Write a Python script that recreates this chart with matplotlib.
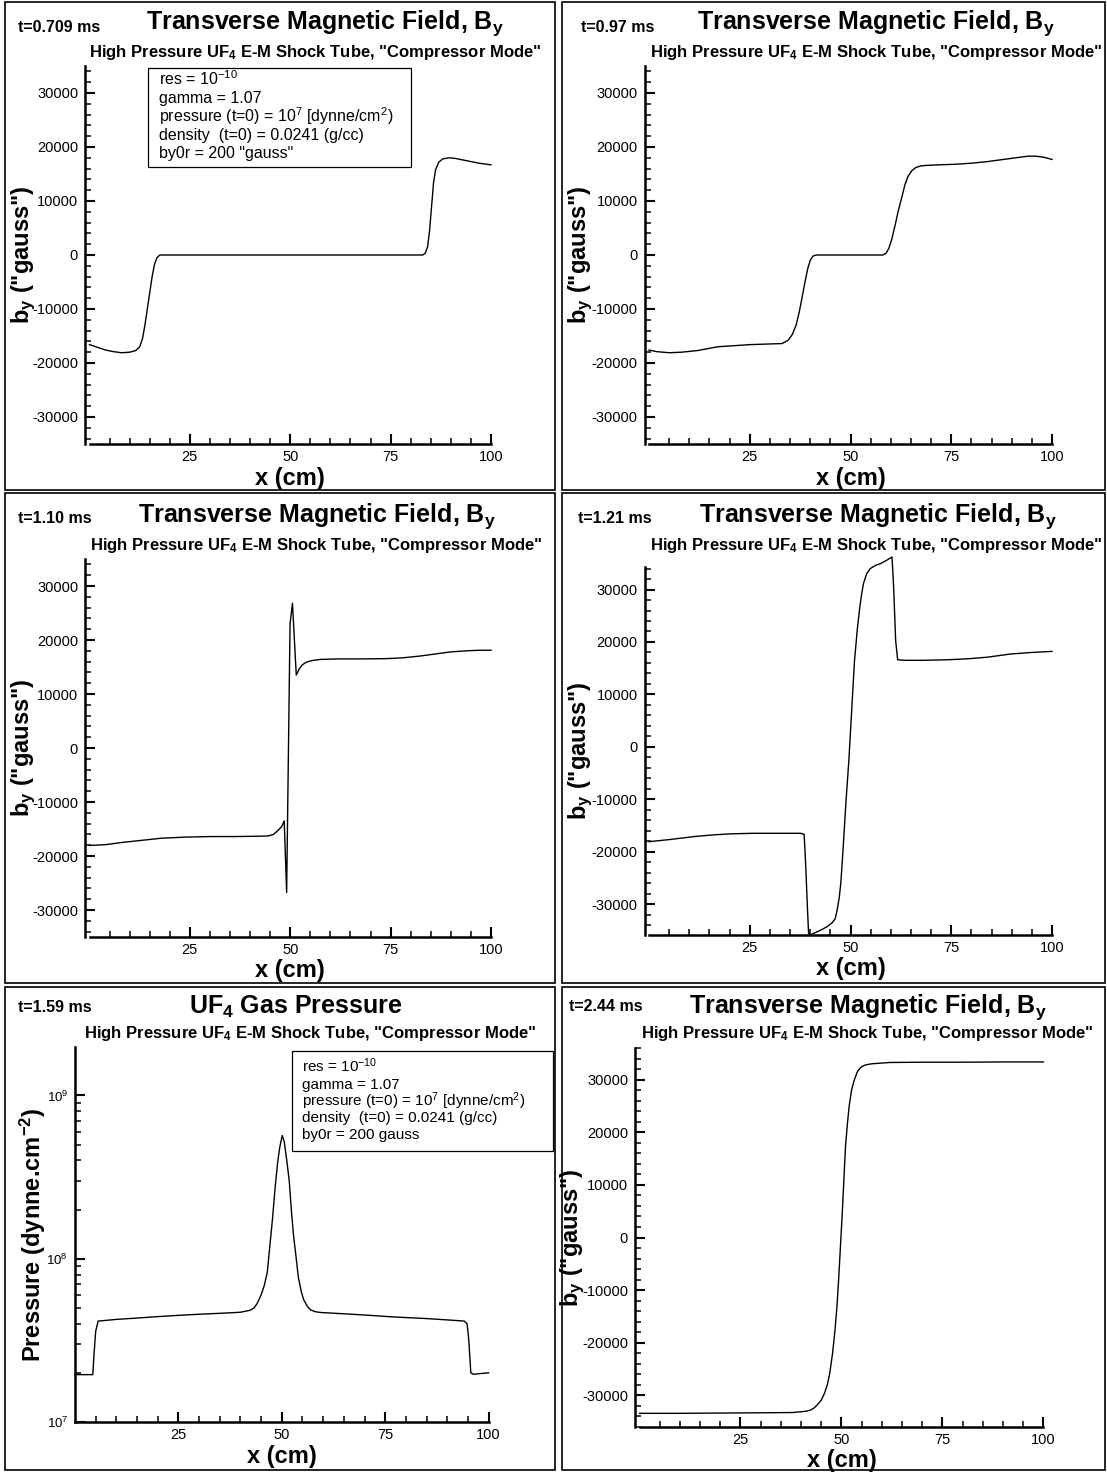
import matplotlib.pyplot as plt
from matplotlib.patches import Rectangle
from matplotlib.ticker import FixedLocator, MultipleLocator, LogLocator, StrMethodFormatter, NullFormatter

plt.rcParams['font.family'] = ['Liberation Sans', 'DejaVu Sans']
plt.rcParams['mathtext.fontset'] = 'custom'
plt.rcParams['mathtext.rm'] = 'Liberation Sans'
plt.rcParams['mathtext.it'] = 'Liberation Sans:italic'
plt.rcParams['mathtext.bf'] = 'Liberation Sans:bold'
plt.rcParams['axes.unicode_minus'] = False

# ---- data (x in cm) ----
x_t0709 = [0, 2, 4, 6, 8, 10, 11.5, 12.5, 13.2, 13.8, 14.4, 15, 15.6, 16.2, 16.8, 17.5,
           83.0, 83.6, 84.2, 84.7, 85.2, 85.7, 86.2, 87, 88, 89.5, 91, 93, 95, 97, 100]
by_t0709 = [-16600, -17100, -17600, -17900, -18100, -18000, -17700, -17000, -15500, -13000,
            -10000, -7000, -4000, -1700, -500, 0, 0, 300, 1500, 4500, 9000, 13500, 15800,
            17200, 17800, 18000, 17900, 17600, 17300, 17000, 16700]

x_t097 = [0, 2, 5, 8, 12, 17, 21, 25, 29, 33, 34.5, 35.5, 36.5, 37.3, 38, 38.7, 39.4, 40,
          40.7, 41.5, 42.5, 58.0, 58.8, 59.5, 60.2, 61, 61.8, 62.7, 63.5, 64.3, 65.2, 66.2,
          67.5, 69, 72, 76, 80, 84, 88, 91, 94, 96, 98, 100]
by_t097 = [-17600, -17900, -18100, -18000, -17700, -17000, -16800, -16600, -16500, -16400,
           -15800, -14800, -13000, -10500, -7800, -5000, -2500, -1000, -200, 0, 0, 0, 300,
           1200, 2800, 5300, 8000, 10600, 13000, 14600, 15600, 16200, 16500, 16600, 16700,
           16800, 17000, 17300, 17700, 18000, 18300, 18300, 18100, 17700]

x_t110 = [0, 4, 8, 13, 18, 24, 30, 36, 41, 44.4, 45.8, 46.6, 47.3, 47.9, 48.5, 49.1, 49.95,
          50.55, 51.5, 52.2, 53, 54, 55.5, 57.5, 62, 68, 74, 78, 82, 86, 90, 94, 97, 100]
by_t110 = [-18050, -17900, -17500, -17100, -16700, -16500, -16400, -16400, -16350, -16300,
           -16000, -15500, -15000, -14500, -13500, -26750, 23000, 26800, 13500, 14600, 15400,
           15900, 16200, 16400, 16500, 16500, 16550, 16700, 17000, 17400, 17800, 18000, 18100,
           18100]

x_t121 = [0, 5, 11.5, 16, 20.2, 26, 32, 37.6, 38.5, 38.9, 39.3, 39.6, 40.0, 41.4, 42.8, 44.2,
          45.4, 46.2, 46.7, 47.2, 47.6, 48.2, 48.9, 49.6, 50.2, 51.0, 51.7, 52.3, 52.8, 53.2,
          54.0, 54.9, 56.2, 57.6, 59.0, 60.3, 60.7, 61.2, 61.7, 63.6, 68, 74, 79.3, 84, 89.7,
          95, 100]
by_t121 = [-18100, -17700, -17100, -16800, -16600, -16500, -16500, -16500, -16700, -22900,
           -30500, -35600, -35900, -35400, -34900, -34300, -33600, -32800, -31100, -28800,
           -26000, -19000, -10200, -2500, 5700, 16500, 22500, 26600, 29300, 31100, 33000,
           34000, 34600, 35000, 35600, 36200, 30500, 20300, 16600, 16500, 16500, 16600, 16800,
           17100, 17700, 18000, 18200]

x_t159 = [0, 2, 4.3, 4.6, 5.0, 5.6, 10, 15, 20, 25, 30, 35, 40, 42.3, 43.3, 44.0, 44.6, 45.2,
          45.8, 46.5, 47.0, 47.7, 48.4, 49.0, 49.5, 50.1, 50.6, 51.2, 51.8, 52.3, 52.8, 53.4,
          54.0, 54.7, 55.3, 56.2, 57.0, 58.2, 59.6, 65, 70, 77, 85, 90, 94.1, 94.8, 95.2, 95.7,
          96.3, 98, 100]
p_t159 = [1.95e7, 1.95e7, 1.95e7, 2.6e7, 3.6e7, 4.15e7, 4.25e7, 4.33e7, 4.42e7, 4.5e7, 4.57e7,
          4.63e7, 4.7e7, 4.83e7, 5.0e7, 5.3e7, 5.7e7, 6.2e7, 6.9e7, 8.3e7, 1.12e8, 1.7e8,
          2.75e8, 3.9e8, 4.8e8, 5.69e8, 5.2e8, 4.0e8, 3.0e8, 2.0e8, 1.42e8, 1.05e8, 7.7e7,
          6.3e7, 5.6e7, 5.1e7, 4.85e7, 4.73e7, 4.68e7, 4.6e7, 4.52e7, 4.4e7, 4.3e7, 4.22e7,
          4.15e7, 4.0e7, 3.2e7, 2.0e7, 1.96e7, 1.98e7, 2.0e7]

x_t244 = [0, 10, 20, 30, 38, 40, 41.3, 42.3, 43.2, 44, 45, 45.8, 46.5, 47.1, 47.8, 48.4, 48.9,
          49.3, 50.2, 51.0, 51.5, 51.9, 52.5, 53.2, 54.0, 54.9, 56.0, 57.5, 62, 70, 80, 90, 100]
by_t244 = [-33400, -33400, -33350, -33300, -33250, -33100, -33000, -32800, -32400, -31800,
           -30900, -29600, -28000, -25800, -22000, -17600, -13000, -8000, 4600, 17300, 21800,
           24900, 28000, 30000, 31600, 32400, 32800, 33000, 33250, 33300, 33300, 33350, 33350]

W, H = 1107, 1472
fig = plt.figure(figsize=(W / 100, H / 100), dpi=100)


def ftext(x, y, s, **kw):
    fig.text(x / W, 1 - y / H, s, **kw)


def box(left, top, right, bottom, lw=1.2):
    fig.add_artist(Rectangle((left / W, 1 - bottom / H), (right - left) / W, (bottom - top) / H,
                             transform=fig.transFigure, fill=False, ec='black', lw=lw))


def make_axes(left, top, right, bottom, ylim, log=False, out=3.2, ylab_dx=-66):
    ax = fig.add_axes([left / W, 1 - bottom / H, (right - left) / W, (bottom - top) / H])
    ax.patch.set_alpha(0)
    for s in ['top', 'right']:
        ax.spines[s].set_visible(False)
    for s in ['left', 'bottom']:
        ax.spines[s].set_linewidth(1.8)
    ax.spines['left'].set_position(('outward', out))
    ax.set_xlim(0, 100)
    ax.xaxis.set_major_locator(FixedLocator([25, 50, 75, 100]))
    ax.xaxis.set_minor_locator(FixedLocator(range(5, 100, 5)))
    if log:
        ax.set_yscale('log')
        ax.yaxis.set_major_locator(LogLocator(base=10))
        ax.yaxis.set_minor_locator(LogLocator(base=10, subs=range(2, 10)))
        ax.yaxis.set_minor_formatter(NullFormatter())
    else:
        ax.yaxis.set_major_locator(MultipleLocator(10000))
        ax.yaxis.set_minor_locator(MultipleLocator(2000))
        ax.yaxis.set_major_formatter(StrMethodFormatter('{x:.0f}'))
    ax.set_ylim(*ylim)
    ax.tick_params(which='both', direction='in', labelsize=10.5)
    ax.tick_params(which='major', length=7, width=1.5)
    ax.tick_params(which='minor', length=4, width=1.1)
    ax.tick_params(axis='y', pad=5)
    ax.tick_params(axis='x', pad=4)
    ax.set_xlabel('x (cm)', fontsize=17, fontweight='bold', va='center')
    ax.xaxis.set_label_coords(0.5, -34 / (bottom - top))
    ax.yaxis.set_label_coords(ylab_dx / (right - left), 0.5)
    return ax


def header(tx, title_cx, sub_cx, t_base, title_base, sub_base, tlabel, title):
    ftext(tx, t_base, tlabel, fontsize=11.5, fontweight='bold', va='baseline')
    ftext(title_cx, title_base, title, fontsize=18, fontweight='bold', ha='center', va='baseline')
    ftext(sub_cx, sub_base, 'High Pressure UF$_\\mathbf{4}$ E-M Shock Tube, "Compressor Mode"',
          fontsize=12, fontweight='bold', ha='center', va='baseline')


def info_box(left, top, right, bottom, tx, base0, step, lines, fs):
    box(left, top, right, bottom, lw=0.9)
    for i, s in enumerate(lines):
        ftext(tx, base0 + i * step, s, fontsize=fs, va='baseline')


by_title = 'Transverse Magnetic Field, B$_\\mathbf{y}$'
by_label = 'b$_\\mathbf{y}$ ("gauss")'

# panel frames
box(5, 2, 555, 490)
box(562, 2, 1105, 490)
box(5, 493, 555, 983)
box(562, 493, 1105, 983)
box(5, 987, 555, 1470)
box(562, 987, 1105, 1470)

# --- t = 0.709 ms ---
ax = make_axes(89.5, 66, 491, 444, (-35000, 35000))
ax.plot(x_t0709, by_t0709, color='black', lw=1.0, clip_on=False)
ax.set_ylabel(by_label, fontsize=17, fontweight='bold', va='center')
header(18, 325, 315, 32, 29, 57, 't=0.709 ms', by_title)
info_box(147.5, 68, 411, 167, 159, 85, 18.3,
         ['res = 10$^{-10}$', 'gamma = 1.07',
          'pressure (t=0) = 10$^{7}$ [dynne/cm$^{2}$)',
          'density  (t=0) = 0.0241 (g/cc)', 'by0r = 200 "gauss"'], 11.5)

# --- t = 0.97 ms ---
ax = make_axes(649, 66, 1052, 444, (-35000, 35000), ylab_dx=-68)
ax.plot(x_t097, by_t097, color='black', lw=1.0, clip_on=False)
ax.set_ylabel(by_label, fontsize=17, fontweight='bold', va='center')
header(581, 876, 876, 32, 29, 57, 't=0.97 ms', by_title)

# --- t = 1.10 ms ---
ax = make_axes(89.5, 559, 491, 937, (-35000, 35000))
ax.plot(x_t110, by_t110, color='black', lw=1.0, clip_on=False)
ax.set_ylabel(by_label, fontsize=17, fontweight='bold', va='center')
header(18, 317, 316, 523, 522, 550, 't=1.10 ms', by_title)

# --- t = 1.21 ms ---
ax = make_axes(649, 567, 1052, 935, (-35900, 34300), ylab_dx=-68)
ax.plot(x_t121, by_t121, color='black', lw=1.0, clip_on=False)
ax.set_ylabel(by_label, fontsize=17, fontweight='bold', va='center')
header(578, 878, 876, 523, 522, 550, 't=1.21 ms', by_title)

# --- t = 1.59 ms, pressure ---
ax = make_axes(75, 1047, 488.6, 1422, (1e7, 1.98e9), log=True, out=0, ylab_dx=-42)
ax.plot(x_t159, p_t159, color='black', lw=1.0, clip_on=False)
ax.set_ylabel('Pressure (dynne.cm$^{\\mathbf{-2}}$)', fontsize=17, fontweight='bold', va='center')
ax.tick_params(axis='y', which='major', labelsize=9.5)
header(18, 296, 310, 1012, 1014, 1038, 't=1.59 ms', 'UF$_\\mathbf{4}$ Gas Pressure')
info_box(292, 1051, 553, 1151, 302, 1072, 16.8,
         ['res = 10$^{-10}$', 'gamma = 1.07',
          'pressure (t=0) = 10$^{7}$ [dynne/cm$^{2}$)',
          'density  (t=0) = 0.0241 (g/cc)', 'by0r = 200 gauss'], 11)

# --- t = 2.44 ms ---
ax = make_axes(639.5, 1048, 1043.4, 1427, (-36000, 36000), ylab_dx=-67)
ax.plot(x_t244, by_t244, color='black', lw=1.0, clip_on=False)
ax.set_ylabel(by_label, fontsize=17, fontweight='bold', va='center')
header(569, 868, 867, 1011, 1013, 1038, 't=2.44 ms', by_title)

fig.savefig('out.png', dpi=100)
